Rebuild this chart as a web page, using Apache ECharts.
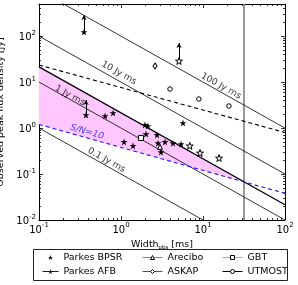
<!DOCTYPE html>
<html><head><meta charset="utf-8">
<script src="https://cdn.jsdelivr.net/npm/echarts@6/dist/echarts.min.js"></script>
<style>html,body{margin:0;padding:0;background:#fff}#c{width:298px;height:285px}</style>
</head><body><div id="c"></div>
<script>
// ---- axis ranges & ticks ----
const xRange = [0.1, 100];
const yRange = [0.01, 500];
const xMajorTicks = [0.1, 1, 10, 100];
const yMajorTicks = [0.01, 0.1, 1, 10, 100];
const xMinorTicks = [0.2,0.3,0.4,0.5,0.6,0.7,0.8,0.9,2,3,4,5,6,7,8,9,20,30,40,50,60,70,80,90];
const yMinorTicks = [0.02,0.03,0.04,0.05,0.06,0.07,0.08,0.09,0.2,0.3,0.4,0.5,0.6,0.7,0.8,0.9,2,3,4,5,6,7,8,9,20,30,40,50,60,70,80,90,200,300,400];

// ---- data: width [ms], peak flux [Jy] ----
const bpsrW = [0.354, 0.374, 0.64, 0.80, 1.96, 2.13, 5.7, 2.02, 1.09, 1.40, 2.75, 2.83, 3.08, 3.44, 4.3, 5.4];
const bpsrS = [123, 1.92, 1.83, 2.13, 1.17, 1.11, 1.29, 0.74, 0.50, 0.41, 0.71, 0.47, 0.30, 0.50, 0.47, 0.45];
const afbW = [5.1, 6.9, 9.2, 15.7];
const afbS = [28.8, 0.41, 0.287, 0.223];
const areciboW = [2.99];
const areciboS = [0.39];
const askapW = [2.6];
const askapS = [22.4];
const gbtW = [1.75];
const gbtS = [0.61];
const utmostW = [3.96, 8.9, 20.7];
const utmostS = [7.07, 4.29, 3.02];

// lower limits (arrows)
const limitW = [0.354, 0.374, 5.1];
const limitS = [123, 1.92, 28.8];
const limitTip = [288, 4.08, 71];

// reference lines (endpoints)
const fluence01 = [[0.1, 1], [100, 0.001]];
const fluence1 = [[0.1, 10], [100, 0.01]];
const fluence10 = [[0.1, 100], [100, 0.1]];
const fluence100 = [[0.1, 1000], [100, 1]];
const completeLine = [[0.1, 21.5], [100, 0.0215]];
const blackDashed = [[0.1, 23.5], [100, 0.8]];
const snr10Line = [[0.1, 1.2], [100, 0.038]];
const cutoffLine = [[31.6, 0.01], [31.6, 500]];
const pinkRegion = [[0.1, 21.5], [31.6, 0.068], [0.1, 1.2]];

// annotations
const annotTexts = ['0.1 Jy ms', '1 Jy ms', '10 Jy ms', '100 Jy ms', 'S/N=10'];
const annotW = [0.666, 0.239, 0.946, 16.6, 0.385];
const annotS = [0.20, 5.1, 15.8, 8.2, 0.82];

const FONT = 'DejaVu Sans';
function pts(W, S) { return W.map((w, i) => [w, S[i]]); }
const starPath = 'path://M50,2 L61.2,36.5 L97.6,36.5 L68.2,57.9 L79.4,92.5 L50,71.1 L20.6,92.5 L31.8,57.9 L2.4,36.5 L38.8,36.5 Z';

const tickRich = {
  b: { fontSize: 10, fontFamily: FONT, color: '#000', verticalAlign: 'bottom' },
  s: { fontSize: 7, fontFamily: FONT, color: '#000', verticalAlign: 'top', padding: [0, 0, 6, 0] }
};
function expLabel(v) { return '{b|10}{s|' + Math.round(Math.log10(v)) + '}'; }

function mkAxis(kind, pos, range, ticks, len, opts) {
  const a = {
    type: 'log', logBase: 10, min: range[0], max: range[1], position: pos,
    axisLine: { show: !!opts.line, lineStyle: { color: '#000', width: 1 } },
    axisTick: { show: true, inside: true, length: len, customValues: ticks, lineStyle: { color: '#000', width: 0.8 } },
    axisLabel: { show: !!opts.label },
    splitLine: { show: false }, minorTick: { show: false }, minorSplitLine: { show: false },
    silent: true
  };
  if (opts.label) {
    a.axisLabel = { show: true, customValues: ticks, formatter: expLabel, rich: tickRich, margin: opts.margin, hideOverlap: false, showMinLabel: true, showMaxLabel: true };
  }
  if (opts.name) Object.assign(a, opts.name);
  return a;
}

const lineSeries = (name, data, style, z) => ({
  name, type: 'line', data, symbol: 'none', silent: true, z: z || 3,
  lineStyle: style, animation: false, clip: true
});

const pointSeries = (name, W, S, symbol, size, itemStyle, extra) => Object.assign({
  name, type: 'line', data: pts(W, S), symbol, symbolSize: size, showSymbol: true, showAllSymbol: true,
  lineStyle: { opacity: 0, width: 0 }, itemStyle, z: 6, silent: true, animation: false
}, extra || {});

const annotRot = [-29.3, -29.3, -29.3, -29.3, -15.7];
const legendText = { fontSize: 9.5, fontFamily: FONT, color: '#000', lineHeight: 11 };
const hollowLegend = { color: '#fff', borderColor: '#000', borderWidth: 1 };

const chart = echarts.init(document.getElementById('c'), null, { renderer: 'canvas' });
chart.setOption({
  animation: false,
  backgroundColor: '#fff',
  grid: { left: 39, top: 4, right: 13, bottom: 65, containLabel: false, outerBoundsMode: 'none' },
  xAxis: [
    mkAxis('x', 'bottom', xRange, xMajorTicks, 4, { line: true, label: true, margin: 2, name: {
      name: '{a|Width}{o|obs}{a| [ms]}', nameLocation: 'middle', nameGap: 15,
      nameTextStyle: { rich: {
        a: { fontSize: 9.5, fontFamily: FONT, color: '#000', verticalAlign: 'top' },
        o: { fontSize: 5.5, fontFamily: FONT, color: '#000', verticalAlign: 'bottom', padding: [5, 0, 0, 0] } } }
    } }),
    mkAxis('x', 'bottom', xRange, xMinorTicks, 2, {}),
    mkAxis('x', 'top', xRange, xMajorTicks, 4, { line: true }),
    mkAxis('x', 'top', xRange, xMinorTicks, 2, {})
  ],
  yAxis: [
    mkAxis('y', 'left', yRange, yMajorTicks, 4, { line: true, label: true, margin: 3, name: {
      name: 'Observed peak flux density [Jy]', nameLocation: 'middle', nameGap: 20, nameRotate: 90,
      nameTextStyle: { fontSize: 9.5, fontFamily: FONT, color: '#000' }
    } }),
    mkAxis('y', 'left', yRange, yMinorTicks, 2, {}),
    mkAxis('y', 'right', yRange, yMajorTicks, 4, { line: true }),
    mkAxis('y', 'right', yRange, yMinorTicks, 2, {})
  ],
  legend: [
    { data: [{ name: 'Parkes BPSR', lineStyle: { opacity: 0 }, itemStyle: { color: '#000', borderWidth: 0 } },
             { name: 'Parkes AFB', lineStyle: { opacity: 1, color: '#0000ff', width: 1 }, itemStyle: { color: '#000', borderColor: '#000', borderWidth: 0 } }],
      orient: 'vertical', left: 42, top: 252, itemWidth: 16, itemHeight: 6, itemGap: 3, padding: 0, selectedMode: false,
      textStyle: legendText },
    { data: [{ name: 'Arecibo', lineStyle: { opacity: 1, color: '#00bfbf', width: 1 }, itemStyle: hollowLegend },
             { name: 'ASKAP', lineStyle: { opacity: 1, color: '#bf00bf', width: 1 }, itemStyle: hollowLegend }],
      orient: 'vertical', left: 142, top: 252, itemWidth: 20, itemHeight: 5, itemGap: 3, padding: 0, selectedMode: false,
      textStyle: legendText },
    { data: [{ name: 'GBT', lineStyle: { opacity: 1, color: '#bfbf00', width: 1 }, itemStyle: hollowLegend },
             { name: 'UTMOST', lineStyle: { opacity: 1, color: '#000', width: 1 }, itemStyle: hollowLegend }],
      orient: 'vertical', left: 222, top: 252, itemWidth: 20, itemHeight: 5, itemGap: 3, padding: 0, selectedMode: false,
      textStyle: legendText }
  ],
  graphic: [{ type: 'rect', shape: { x: 33.5, y: 249.5, width: 254, height: 31 }, style: { fill: 'none', stroke: '#222', lineWidth: 1 }, silent: true }],
  series: [
    { name: 'pink', type: 'custom', data: pinkRegion, z: 1, silent: true, animation: false,
      encode: { x: 0, y: 1 },
      renderItem: function (params, api) {
        if (params.dataIndex !== 0) return null;
        return { type: 'polygon', shape: { points: pinkRegion.map(p => api.coord(p)) }, style: { fill: '#ffc6ff', stroke: null } };
      } },
    lineSeries('f01', fluence01, { color: '#000', width: 0.8 }),
    lineSeries('f1', fluence1, { color: '#000', width: 0.8 }),
    lineSeries('f10', fluence10, { color: '#000', width: 0.8 }),
    lineSeries('f100', fluence100, { color: '#000', width: 0.8 }),
    lineSeries('complete', completeLine, { color: '#000', width: 1.3 }),
    lineSeries('dashedBlack', blackDashed, { color: '#000', width: 1.1, type: [4, 3] }),
    lineSeries('snr10', snr10Line, { color: '#1a1aff', width: 1.1, type: [4, 3] }),
    lineSeries('cutoff', cutoffLine, { color: '#808080', width: 1.6 }, 2),
    { name: 'arrows', type: 'line', data: [], silent: true, z: 5, animation: false,
      markLine: { silent: true, animation: false, symbol: ['none', 'arrow'], symbolSize: [4, 5],
        label: { show: false }, lineStyle: { color: '#000', width: 1, type: 'solid' },
        data: limitW.map((w, i) => [{ coord: [w, limitS[i]] }, { coord: [w, limitTip[i]] }]) } },
    pointSeries('Parkes BPSR', bpsrW, bpsrS, starPath, 7, { color: '#000' }),
    pointSeries('Parkes AFB', afbW, afbS, starPath, 7, { color: '#fff', borderColor: '#000', borderWidth: 1 }),
    pointSeries('Arecibo', areciboW, areciboS, 'triangle', 5, { color: '#fff', borderColor: '#000', borderWidth: 1 }),
    pointSeries('ASKAP', askapW, askapS, 'diamond', [4, 6], { color: '#fff', borderColor: '#000', borderWidth: 1 }),
    pointSeries('GBT', gbtW, gbtS, 'rect', 5, { color: '#fff', borderColor: '#000', borderWidth: 1 }),
    pointSeries('UTMOST', utmostW, utmostS, 'circle', 4.5, { color: '#fff', borderColor: '#000', borderWidth: 1 }),
    { name: 'annotations', type: 'scatter', symbolSize: 1, silent: true, z: 7, animation: false,
      itemStyle: { color: 'transparent' },
      data: annotTexts.map((t, i) => ({
        value: [annotW[i], annotS[i]],
        label: { show: true, position: 'inside', formatter: t, rotate: annotRot[i],
          fontSize: 9, fontFamily: FONT, color: i === 4 ? '#1a1aff' : '#000', fontStyle: i === 4 ? 'italic' : 'normal' }
      })) }
  ]
});
</script></body></html>
